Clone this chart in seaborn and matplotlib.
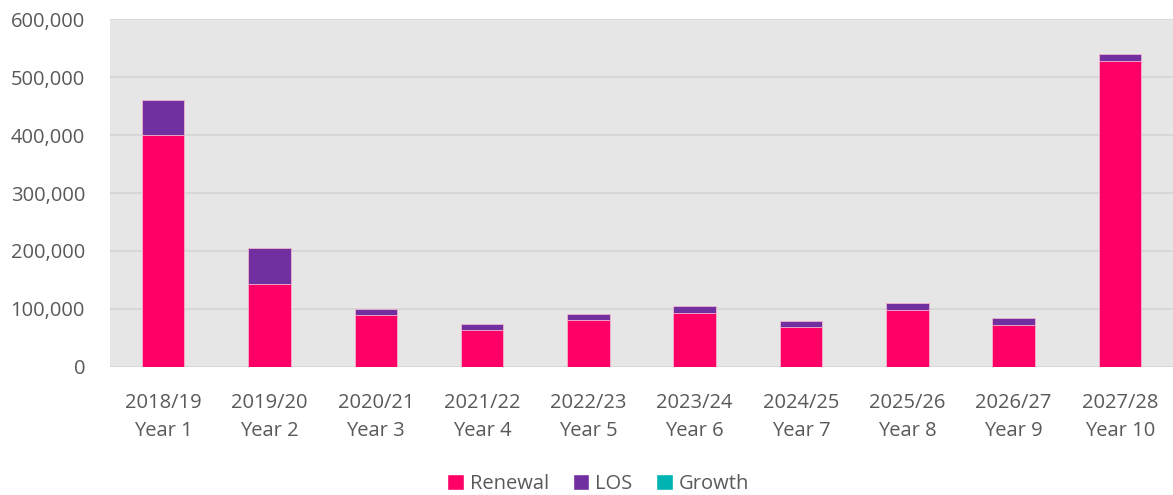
import pandas as pd
import seaborn as sns
import matplotlib.pyplot as plt
from matplotlib.patches import Patch
from matplotlib.ticker import FuncFormatter

# values
years = ["2018/19", "2019/20", "2020/21", "2021/22", "2022/23",
         "2023/24", "2024/25", "2025/26", "2026/27", "2027/28"]
year_no = ["Year 1", "Year 2", "Year 3", "Year 4", "Year 5",
           "Year 6", "Year 7", "Year 8", "Year 9", "Year 10"]
renewal = [400000, 143000, 89000, 63000, 80500, 93000, 68500, 97500, 72000, 527000]
los = [60000, 62000, 10500, 11000, 10500, 11500, 10500, 12000, 12000, 12500]
growth = [0, 0, 0, 0, 0, 0, 0, 0, 0, 0]

labels = [f"{y}\n{n}" for y, n in zip(years, year_no)]
df = pd.DataFrame({"label": labels, "Renewal": renewal, "LOS": los, "Growth": growth})
df["r_l"] = df["Renewal"] + df["LOS"]
df["total"] = df["r_l"] + df["Growth"]

colors = {"Renewal": "#FF0066", "LOS": "#7030A0", "Growth": "#00B3B3"}
text_col = "#595959"

sns.set_style("white")
plt.rcParams["font.family"] = ["Open Sans", "DejaVu Sans"]

fig = plt.figure(figsize=(11.73, 4.95), dpi=100)
ax = fig.add_axes([0.0938, 0.2586, 0.9062, 0.703])
ax.set_facecolor("#E6E6E6")

# stacked bars by overlaying cumulative sums
for col, name in [("total", "Growth"), ("r_l", "LOS"), ("Renewal", "Renewal")]:
    sns.barplot(data=df, x="label", y=col, color=colors[name], width=0.4,
                saturation=1, edgecolor="#F2B8D0", linewidth=0.6, ax=ax, zorder=3)

ax.set_ylim(0, 600000)
ax.set_yticks(range(0, 600001, 100000))
ax.yaxis.set_major_formatter(FuncFormatter(lambda v, p: f"{int(v):,}"))
ax.grid(axis="y", color="#D5D5D5", linewidth=1.2, zorder=0)
ax.set_axisbelow(True)
for s in ax.spines.values():
    s.set_visible(False)
ax.set_xlabel("")
ax.set_ylabel("")
ax.tick_params(axis="both", length=0, labelsize=14.5, colors=text_col)
ax.tick_params(axis="x", pad=19)
ax.tick_params(axis="y", pad=18)
for t in ax.get_xticklabels():
    t.set_linespacing(1.5)

handles = [Patch(facecolor=colors[k], label=k) for k in ["Renewal", "LOS", "Growth"]]
fig.legend(handles=handles, loc="lower center", bbox_to_anchor=(0.51, -0.035), ncol=3,
           frameon=False, fontsize=14.5, labelcolor=text_col, handlelength=0.8,
           handleheight=0.8, handletextpad=0.3, columnspacing=1.2)

fig.savefig("out.png", dpi=100)
